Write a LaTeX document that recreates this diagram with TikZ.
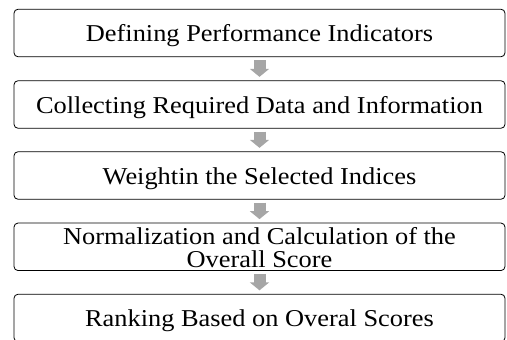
\documentclass[tikz,border=0pt]{standalone}
\usepackage{fontspec}
\setmainfont{Liberation Serif}[FakeStretch=1.09]
\usetikzlibrary{arrows.meta}
\definecolor{arrowgray}{RGB}{166,166,166}
\tikzset{
  stage/.style={draw, line width=0.8pt, rounded corners=4pt, minimum width=491pt,
    minimum height=47.5pt, inner sep=0pt, align=center,
    font=\fontsize{24.2}{23}\selectfont, text height=18pt, text depth=1pt},
  flow/.style={draw=arrowgray, line width=12pt, -{Triangle[width=19pt,length=8pt]},
    shorten <=3pt, shorten >=3.5pt}
}
\begin{document}
\begin{tikzpicture}[x=1pt, y=-1pt]
  \useasboundingbox (0,0) rectangle (507,340);
  % steps of the procedure
  \node[stage] (define) at (259.5,33) {Defining Performance Indicators};
  \node[stage] (collect) at (259.5,104.5) {Collecting Required Data and Information};
  \node[stage] (weight) at (259.5,175.5) {Weightin the Selected Indices};
  \node[stage, text height=43pt, text depth=1.8pt] (normal) at (259.5,246.8)
    {Normalization and Calculation of the\\Overall Score};
  \node[stage] (rank) at (259.5,318) {Ranking Based on Overal Scores};
  % arrows
  \draw[flow] (define) -- (collect);
  \draw[flow] (collect) -- (weight);
  \draw[flow] (weight) -- (normal);
  \draw[flow] (normal) -- (rank);
\end{tikzpicture}
\end{document}
